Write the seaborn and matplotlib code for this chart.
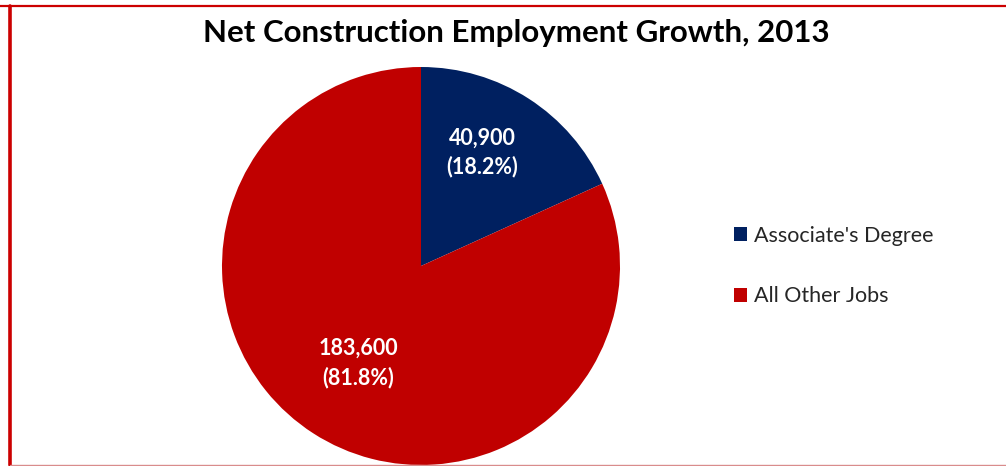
import matplotlib
matplotlib.use("Agg")
import matplotlib.pyplot as plt
import seaborn as sns
import numpy as np
from matplotlib.lines import Line2D
from matplotlib.patches import Patch

# data
categories = ["Associate's Degree", "All Other Jobs"]
jobs = [40900, 183600]
colors = ["#002060", "#C00000"]
title = "Net Construction Employment Growth, 2013"

sns.set_theme(style="white")
plt.rcParams['font.family'] = ['Lato', 'DejaVu Sans']

W, H = 1006, 466
fig = plt.figure(figsize=(W / 100, H / 100), dpi=100)

# pie axes: centre (421, 266) px, radius 199 px
cx, cy, r = 421, 266, 199
ax = fig.add_axes([(cx - r) / W, (H - cy - r) / H, 2 * r / W, 2 * r / H])

total = sum(jobs)
wedges, _ = ax.pie(jobs, colors=colors, startangle=90, counterclock=False,
                   radius=1, wedgeprops=dict(linewidth=0))

# value labels inside the wedges
for w, v, d, shift in zip(wedges, jobs, [0.65, 0.58], [4.5, 0]):
    ang = np.deg2rad((w.theta1 + w.theta2) / 2 + shift)
    ax.text(d * np.cos(ang), d * np.sin(ang), f"{v:,.0f}\n({v / total * 100:.1f}%)",
            ha='center', va='center', color='white', fontsize=15.5,
            fontweight='bold', linespacing=1.4)
ax.set_xlim(-1, 1)
ax.set_ylim(-1, 1)
ax.set_aspect('equal')
ax.axis('off')

fig.text(516 / W, 1 - 33 / H, title, ha='center', va='center',
         fontsize=22.5, fontweight='bold', color='black')

handles = [Patch(facecolor=c, edgecolor='none') for c in colors]
fig.legend(handles, categories, loc='center left',
           bbox_to_anchor=(715 / W, 1 - 266 / H), frameon=False,
           fontsize=15.5, handlelength=0.6, handleheight=0.6,
           handletextpad=0.3, labelspacing=1.9)

# frame lines of the original document
fig.add_artist(Line2D([0, 1], [1 - 5.5 / H, 1 - 5.5 / H], color='#CC0000', lw=1.6))
fig.add_artist(Line2D([9.5 / W, 9.5 / W], [1 - 5.5 / H, 1 - 465 / H], color='#CC0000', lw=2.6))
fig.add_artist(Line2D([9.5 / W, 1], [1 - 465 / H, 1 - 465 / H], color='#D98C8C', lw=1))

fig.savefig("out.png", dpi=100)
